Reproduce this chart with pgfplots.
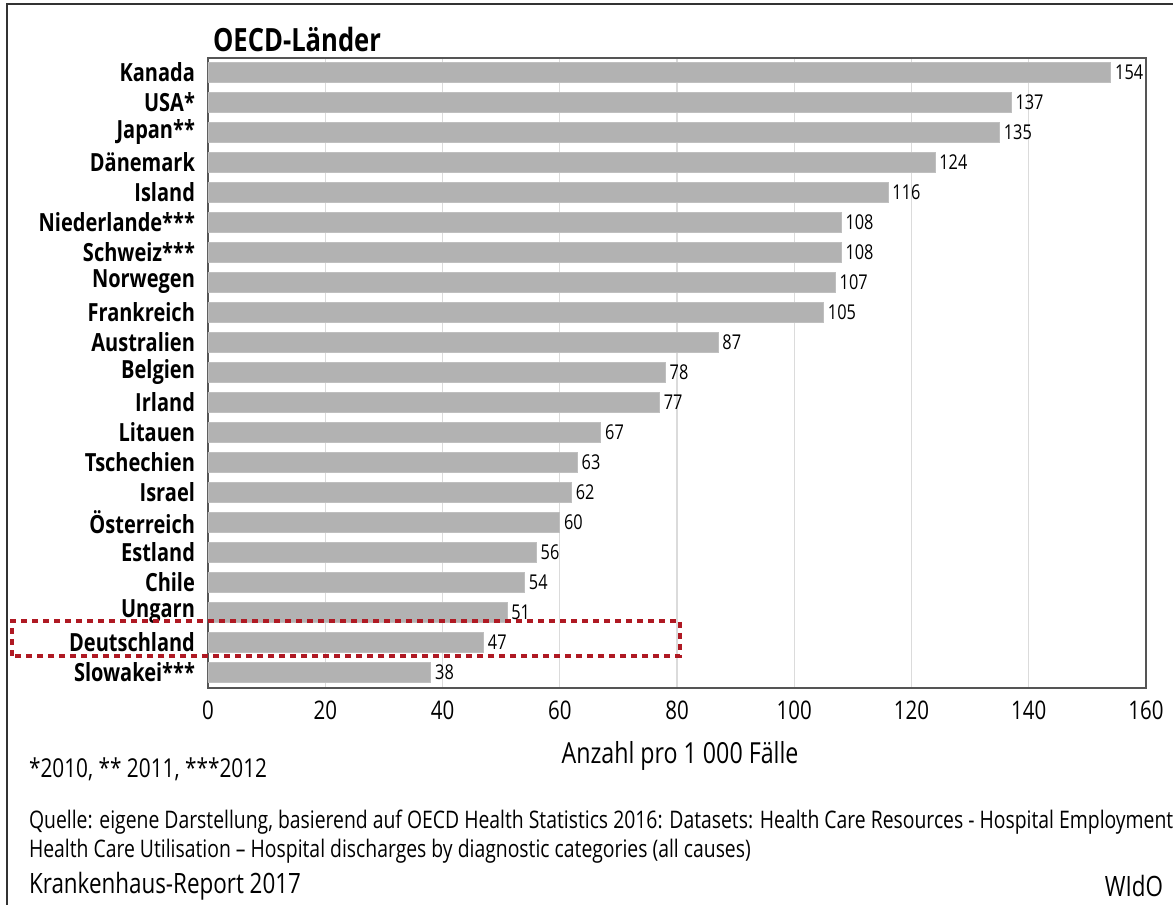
\documentclass[border=0pt]{standalone}
\usepackage{fontspec}
\setmainfont[FakeStretch=0.8]{Open Sans}
\usepackage{pgfplots}
\pgfplotsset{compat=1.18}
\definecolor{framegray}{RGB}{85,85,85}
\definecolor{bargray}{RGB}{178,178,178}
\definecolor{redbox}{RGB}{175,25,35}
\begin{document}
\begin{tikzpicture}[x=1pt,y=1pt]
\useasboundingbox (0,0) rectangle (586.5,452.5);
\fill[white] (0,0) rectangle (586.5,452.5);
\draw[line width=1.2pt, black!80] (3.5,-2) -- (3.5,450.5) -- (590,450.5);
\begin{axis}[
  at={(104pt,108.5pt)}, anchor=south west,
  scale only axis, width=469pt, height=315pt,
  xbar, bar width=10pt,
  xmin=0, xmax=160, ymin=-0.467, ymax=20.533, y dir=reverse,
  ytick={0,...,20},
  yticklabels={Kanada,USA*,Japan**,Dänemark,Island,Niederlande***,Schweiz***,Norwegen,Frankreich,Australien,Belgien,Irland,Litauen,Tschechien,Israel,Österreich,Estland,Chile,Ungarn,Deutschland,Slowakei***},
  xtick={0,20,...,160},
  major tick length=0pt,
  xmajorgrids, grid style={black!14, line width=0.7pt},
  axis line style={framegray, line width=0.9pt},
  yticklabel style={font=\bfseries\fontsize{12.5}{14}\selectfont, xshift=-3pt},
  xticklabel style={font=\fontsize{12.8}{15}\selectfont, yshift=-3pt},
  /pgf/number format/assume math mode=true,
  nodes near coords,
  nodes near coords style={anchor=west, font=\fontsize{10.2}{12}\selectfont, inner sep=2pt},
  clip=false,
]
\addplot[fill=bargray, draw=black!25, line width=0.4pt] coordinates {
(154,0) (137,1) (135,2) (124,3) (116,4) (108,5) (108,6) (107,7) (105,8) (87,9)
(78,10) (77,11) (67,12) (63,13) (62,14) (60,15) (56,16) (54,17) (51,18) (47,19) (38,20)};
\end{axis}
\node[anchor=west, font=\bfseries\fontsize{16}{18}\selectfont] at (103,432.5) {OECD-Länder};
\draw[redbox, line width=2.2pt, dash pattern=on 3pt off 2.5pt] (6,124.5) rectangle (340,142);
\node[font=\fontsize{14.5}{16}\selectfont] at (340,74.5) {Anzahl pro 1 000 Fälle};
\node[anchor=west, font=\fontsize{13}{15}\selectfont] at (11,68) {*2010, ** 2011, ***2012};
\node[anchor=west, font=\fontsize{12.1}{13}\selectfont] at (11,41.5) {Quelle: eigene Darstellung, basierend auf OECD Health Statistics 2016: Datasets: Health Care Resources - Hospital Employment};
\node[anchor=west, font=\fontsize{12.1}{13}\selectfont] at (11,27) {Health Care Utilisation – Hospital discharges by diagnostic categories (all causes)};
\node[anchor=west, font=\fontsize{14}{16}\selectfont] at (11,9.5) {Krankenhaus-Report 2017};
\node[anchor=east, font=\fontsize{14}{16}\selectfont] at (585,9.5) {WIdO};
\end{tikzpicture}
\end{document}
